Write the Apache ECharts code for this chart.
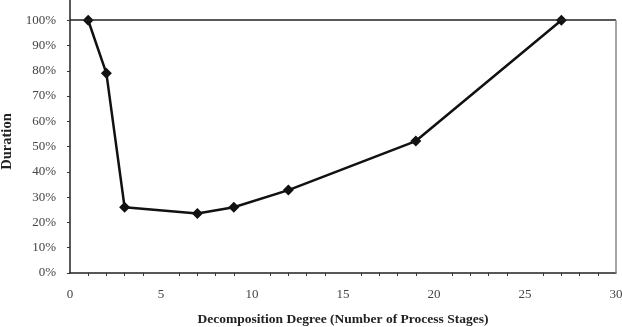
<!DOCTYPE html>
<html>
<head>
<meta charset="utf-8">
<script src="https://cdn.jsdelivr.net/npm/echarts@6/dist/echarts.min.js"></script>
<style>
  html, body { margin: 0; padding: 0; background: #fff; }
  #chart { width: 622px; height: 327px; }
</style>
</head>
<body>
<div id="chart"></div>
<script>
// decomposition degree (number of process stages)
const stages = [1, 2, 3, 7, 9, 12, 19, 27];
// duration, as a fraction of the single-stage duration
const duration = [1.0, 0.79, 0.26, 0.235, 0.26, 0.328, 0.522, 1.0];

const font = "Liberation Serif";

const chart = echarts.init(document.getElementById("chart"));

chart.setOption({
  animation: false,
  grid: { left: 70, right: 6, top: 0, bottom: 54, outerBoundsMode: "none" },
  xAxis: {
    type: "value",
    min: 0,
    max: 30,
    interval: 5,
    name: "Decomposition Degree (Number of Process Stages)",
    nameLocation: "middle",
    nameGap: 40,
    nameTextStyle: { fontFamily: font, fontSize: 13.5, fontWeight: "bold", color: "#222" },
    axisLine: { lineStyle: { color: "#222", width: 1.5 } },
    axisTick: { show: false },
    minorTick: { show: true, splitNumber: 5, length: 3, lineStyle: { color: "#333" } },
    axisLabel: { fontFamily: font, fontSize: 13, color: "#444", margin: 15 },
    splitLine: { show: false },
  },
  yAxis: {
    type: "value",
    min: 0,
    max: 1.08,
    interval: 0.1,
    name: "Duration",
    nameLocation: "middle",
    nameGap: 54,
    nameRotate: 90,
    nameTextStyle: { fontFamily: font, fontSize: 14.5, fontWeight: "bold", color: "#222", padding: [0, 10, 0, 0] },
    axisLine: { show: true, lineStyle: { color: "#222", width: 1.5 } },
    axisTick: { show: true, length: 3, lineStyle: { color: "#333" } },
    axisLabel: {
      fontFamily: font,
      fontSize: 13,
      color: "#444",
      margin: 14,
      showMaxLabel: false,
      formatter: (v) => (v > 1.001 ? "" : Math.round(v * 100) + "%"),
    },
    splitLine: { show: false },
  },
  series: [
    {
      type: "line",
      data: stages.map((s, i) => [s, duration[i]]),
      symbol: "diamond",
      symbolSize: 11,
      lineStyle: { color: "#111", width: 2.5 },
      itemStyle: { color: "#111" },
      markLine: {
        silent: true,
        symbol: "none",
        label: { show: false },
        data: [
          { yAxis: 1, lineStyle: { color: "#222", width: 1.5, type: "solid" } },
          [
            { coord: [30, 0], lineStyle: { color: "#888", width: 1.5, type: "solid" } },
            { coord: [30, 1] },
          ],
        ],
      },
    },
  ],
});
</script>
</body>
</html>
